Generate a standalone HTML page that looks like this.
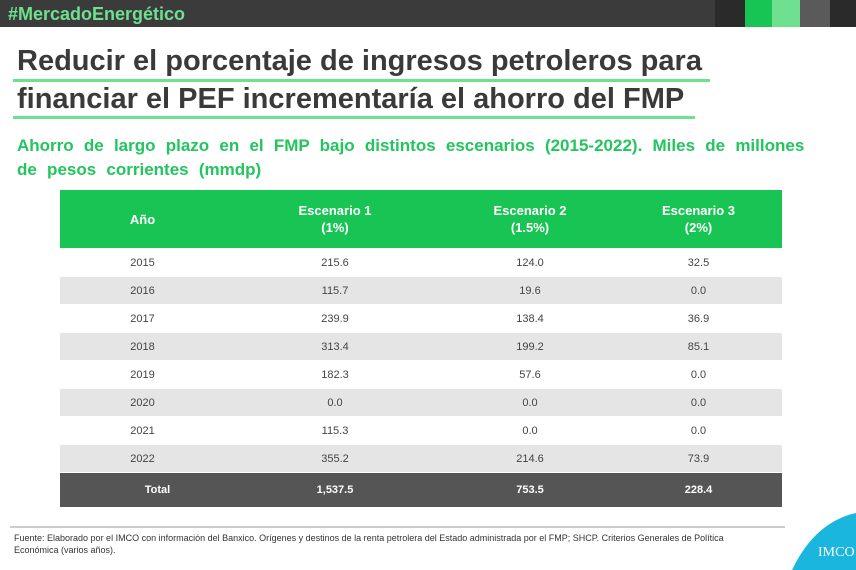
<!DOCTYPE html>
<html><head><meta charset="utf-8"><style>
body{margin:0;width:856px;height:570px;overflow:hidden;background:#fff;font-family:"Liberation Sans",Arial,sans-serif;position:relative}
.a{position:absolute}
.hdr{left:0;top:0;width:856px;height:27px;background:#3b3b3b}
.tag{left:8px;top:4px;color:#6ee08f;font-weight:bold;font-size:18px}
.t{left:17px;font-size:29px;font-weight:bold;color:#3a3a3a;white-space:nowrap}
.ul{height:3px;background:#6ee08f;left:13px}
.sub{left:17px;top:134px;width:830px;color:#22c55e;font-weight:bold;font-size:17px;line-height:24px;white-space:nowrap;word-spacing:5.5px}
table{position:absolute;left:60px;top:190px;width:722px;border-collapse:collapse;font-size:11px;color:#444}
td{text-align:center;height:27px;padding:0;border-bottom:1px solid #fff}
tr.h td{background:#17c454;color:#fff;font-size:13px;height:58px;line-height:17px;font-weight:bold}
tr.g td{background:#e5e5e5}
tr.tot td{background:#555;color:#fff;font-weight:bold;height:34px}
.fn{left:14px;top:532px;font-size:9px;color:#333;line-height:12px;width:745px}
</style></head><body>
<div class="a hdr"></div>
<div class="a" style="left:715px;top:0;width:30px;height:27px;background:#2a2a2a"></div>
<div class="a" style="left:745px;top:0;width:27px;height:27px;background:#17c454"></div>
<div class="a" style="left:772px;top:0;width:28px;height:27px;background:#6ee08f"></div>
<div class="a" style="left:800px;top:0;width:30px;height:27px;background:#5a5a5a"></div>
<div class="a" style="left:830px;top:0;width:26px;height:27px;background:#2a2a2a"></div>
<div class="a tag">#MercadoEnergético</div>
<div class="a t" style="top:45px">Reducir el porcentaje de ingresos petroleros para</div>
<div class="a ul" style="top:79px;width:697px"></div>
<div class="a t" style="top:83px">financiar el PEF incrementaría el ahorro del FMP</div>
<div class="a ul" style="top:116px;width:682px"></div>
<div class="a sub">Ahorro de largo plazo en el FMP bajo distintos escenarios (2015-2022). Miles de millones<br>de pesos corrientes (mmdp)</div>
<table>
<tr class="h"><td style="width:165px">Año</td><td style="width:220px">Escenario 1<br>(1%)</td><td style="width:170px">Escenario 2<br>(1.5%)</td><td>Escenario 3<br>(2%)</td></tr>
<tr><td>2015</td><td>215.6</td><td>124.0</td><td>32.5</td></tr>
<tr class="g"><td>2016</td><td>115.7</td><td>19.6</td><td>0.0</td></tr>
<tr><td>2017</td><td>239.9</td><td>138.4</td><td>36.9</td></tr>
<tr class="g"><td>2018</td><td>313.4</td><td>199.2</td><td>85.1</td></tr>
<tr><td>2019</td><td>182.3</td><td>57.6</td><td>0.0</td></tr>
<tr class="g"><td>2020</td><td>0.0</td><td>0.0</td><td>0.0</td></tr>
<tr><td>2021</td><td>115.3</td><td>0.0</td><td>0.0</td></tr>
<tr class="g"><td>2022</td><td>355.2</td><td>214.6</td><td>73.9</td></tr>
<tr class="tot"><td style="padding-left:30px">Total</td><td>1,537.5</td><td>753.5</td><td>228.4</td></tr>
</table>
<div class="a" style="left:10px;top:526px;width:775px;height:2px;background:#ccc"></div>
<div class="a fn">Fuente: Elaborado por el IMCO con información del Banxico. Orígenes y destinos de la renta petrolera del Estado administrada por el FMP; SHCP. Criterios Generales de Política Económica (varios años).</div>
<svg class="a" style="left:770px;top:510px" width="86" height="60"><path d="M86 3 Q45 12 22 60 L86 60 Z" fill="#1bb6dd"/><text x="48" y="46" font-family="Liberation Serif,serif" font-size="14" fill="#fff">IMCO</text></svg>
</body></html>
